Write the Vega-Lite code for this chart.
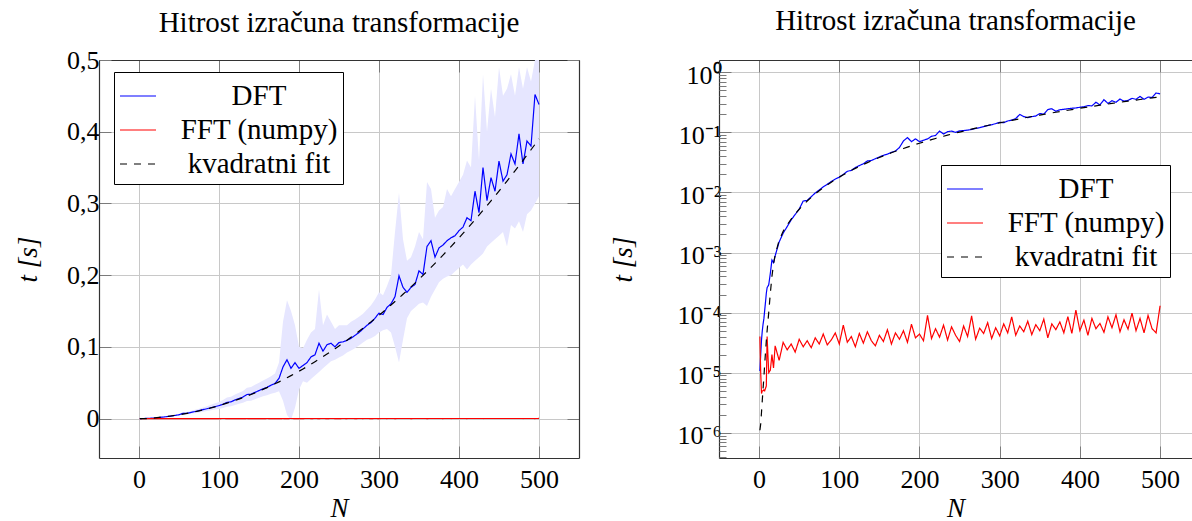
{
  "$schema": "https://vega.github.io/schema/vega-lite/v6.json",
  "padding": {"left": 14, "top": 6, "right": 0, "bottom": 0},
  "background": "white",
  "data": {"values": [
    {"N":1,"dft":1.07e-5,"fft":4.0e-5,"fit":1.1e-6,"lo":9e-6,"hi":1.3e-5},
    {"N":2,"dft":2.0e-5,"fft":1.0e-5,"fit":1.4e-6,"lo":1.7e-5,"hi":2.3e-5},
    {"N":3,"dft":3.5e-5,"fft":4.5e-6,"fit":2.2e-6,"lo":3.0e-5,"hi":4.0e-5},
    {"N":4,"dft":5.0e-5,"fft":5.0e-6,"fit":3.5e-6,"lo":4.2e-5,"hi":5.8e-5},
    {"N":5,"dft":6.5e-5,"fft":5.0e-6,"fit":5.5e-6,"lo":5.5e-5,"hi":7.5e-5},
    {"N":6,"dft":8.0e-5,"fft":5.2e-6,"fit":8.5e-6,"lo":6.8e-5,"hi":9.2e-5},
    {"N":7,"dft":1.1e-4,"fft":5.0e-6,"fit":1.4e-5,"lo":9.4e-5,"hi":1.27e-4},
    {"N":8,"dft":1.5e-4,"fft":5.5e-6,"fit":2.2e-5,"lo":1.28e-4,"hi":1.73e-4},
    {"N":9,"dft":2.1e-4,"fft":6.0e-6,"fit":3.4e-5,"lo":1.79e-4,"hi":2.42e-4},
    {"N":10,"dft":2.6e-4,"fft":4.0e-5,"fit":5.0e-5,"lo":2.2e-4,"hi":3.0e-4},
    {"N":12,"dft":2.9e-4,"fft":1.0e-5,"fit":1.0e-4,"lo":2.5e-4,"hi":3.3e-4},
    {"N":14,"dft":4.5e-4,"fft":1.1e-5,"fit":2.1e-4,"lo":3.8e-4,"hi":5.2e-4},
    {"N":16,"dft":7.5e-4,"fft":2.0e-5,"fit":4.0e-4,"lo":6.4e-4,"hi":8.6e-4},
    {"N":18,"dft":6.8e-4,"fft":1.2e-5,"fit":6.5e-4,"lo":5.8e-4,"hi":7.8e-4},
    {"N":20,"dft":8.8e-4,"fft":2.8e-5,"fit":9.0e-4,"lo":7.5e-4,"hi":1.0e-3},
    {"N":25,"dft":0.0015,"fft":1.6e-5,"fit":0.0016,"lo":0.0012,"hi":0.0019},
    {"N":30,"dft":0.0021,"fft":3.2e-5,"fit":0.00225,"lo":0.0017,"hi":0.0026},
    {"N":35,"dft":0.0027,"fft":2.4e-5,"fit":0.00289,"lo":0.0022,"hi":0.0033},
    {"N":40,"dft":0.0035,"fft":3.0e-5,"fit":0.0036,"lo":0.0029,"hi":0.0042},
    {"N":45,"dft":0.0043,"fft":2.2e-5,"fit":0.00439,"lo":0.0035,"hi":0.0052},
    {"N":50,"dft":0.0053,"fft":3.6e-5,"fit":0.00525,"lo":0.0042,"hi":0.0065},
    {"N":55,"dft":0.0072,"fft":2.7e-5,"fit":0.00619,"lo":0.005,"hi":0.009},
    {"N":60,"dft":0.0074,"fft":3.4e-5,"fit":0.0072,"lo":0.0058,"hi":0.0092},
    {"N":65,"dft":0.0085,"fft":2.6e-5,"fit":0.00829,"lo":0.0066,"hi":0.0105},
    {"N":70,"dft":0.0098,"fft":3.8e-5,"fit":0.00945,"lo":0.0075,"hi":0.0122},
    {"N":75,"dft":0.011,"fft":3.0e-5,"fit":0.01069,"lo":0.0085,"hi":0.0138},
    {"N":80,"dft":0.0124,"fft":4.4e-5,"fit":0.012,"lo":0.0095,"hi":0.0155},
    {"N":85,"dft":0.0137,"fft":2.9e-5,"fit":0.01339,"lo":0.0104,"hi":0.0172},
    {"N":90,"dft":0.0152,"fft":3.5e-5,"fit":0.01485,"lo":0.0115,"hi":0.0192},
    {"N":95,"dft":0.0167,"fft":4.6e-5,"fit":0.01639,"lo":0.0125,"hi":0.0212},
    {"N":100,"dft":0.018,"fft":3.0e-5,"fit":0.018,"lo":0.0135,"hi":0.0232},
    {"N":105,"dft":0.02,"fft":6.2e-5,"fit":0.01969,"lo":0.0148,"hi":0.026},
    {"N":110,"dft":0.0225,"fft":3.2e-5,"fit":0.02145,"lo":0.0165,"hi":0.0295},
    {"N":115,"dft":0.0233,"fft":4.0e-5,"fit":0.02329,"lo":0.017,"hi":0.0305},
    {"N":120,"dft":0.026,"fft":2.7e-5,"fit":0.0252,"lo":0.019,"hi":0.0335},
    {"N":125,"dft":0.028,"fft":4.5e-5,"fit":0.02719,"lo":0.0205,"hi":0.036},
    {"N":130,"dft":0.03,"fft":3.1e-5,"fit":0.02925,"lo":0.022,"hi":0.0385},
    {"N":135,"dft":0.0335,"fft":4.8e-5,"fit":0.03139,"lo":0.0245,"hi":0.043},
    {"N":140,"dft":0.034,"fft":3.4e-5,"fit":0.0336,"lo":0.025,"hi":0.044},
    {"N":145,"dft":0.0365,"fft":2.8e-5,"fit":0.03589,"lo":0.027,"hi":0.047},
    {"N":150,"dft":0.039,"fft":4.2e-5,"fit":0.03825,"lo":0.029,"hi":0.05},
    {"N":155,"dft":0.0415,"fft":3.3e-5,"fit":0.04069,"lo":0.031,"hi":0.053},
    {"N":160,"dft":0.0435,"fft":5.2e-5,"fit":0.0432,"lo":0.0325,"hi":0.056},
    {"N":165,"dft":0.0465,"fft":3.0e-5,"fit":0.04579,"lo":0.0345,"hi":0.059},
    {"N":170,"dft":0.049,"fft":4.6e-5,"fit":0.04845,"lo":0.036,"hi":0.063},
    {"N":175,"dft":0.056,"fft":3.6e-5,"fit":0.05119,"lo":0.038,"hi":0.078},
    {"N":180,"dft":0.072,"fft":5.0e-5,"fit":0.054,"lo":0.025,"hi":0.135},
    {"N":185,"dft":0.082,"fft":3.2e-5,"fit":0.05689,"lo":0.005,"hi":0.165},
    {"N":190,"dft":0.07,"fft":6.4e-5,"fit":0.05985,"lo":-0.002,"hi":0.15},
    {"N":195,"dft":0.078,"fft":3.8e-5,"fit":0.06289,"lo":0.015,"hi":0.13},
    {"N":200,"dft":0.07,"fft":4.4e-5,"fit":0.066,"lo":0.04,"hi":0.1},
    {"N":205,"dft":0.074,"fft":3.4e-5,"fit":0.06919,"lo":0.052,"hi":0.098},
    {"N":210,"dft":0.078,"fft":9.0e-5,"fit":0.07245,"lo":0.05,"hi":0.11},
    {"N":215,"dft":0.086,"fft":3.7e-5,"fit":0.07579,"lo":0.055,"hi":0.12},
    {"N":220,"dft":0.089,"fft":5.4e-5,"fit":0.0792,"lo":0.06,"hi":0.125},
    {"N":225,"dft":0.105,"fft":3.9e-5,"fit":0.08269,"lo":0.065,"hi":0.18},
    {"N":230,"dft":0.094,"fft":6.2e-5,"fit":0.08625,"lo":0.07,"hi":0.13},
    {"N":235,"dft":0.103,"fft":3.5e-5,"fit":0.08989,"lo":0.075,"hi":0.145},
    {"N":240,"dft":0.105,"fft":5.8e-5,"fit":0.0936,"lo":0.08,"hi":0.135},
    {"N":245,"dft":0.1,"fft":4.2e-5,"fit":0.09739,"lo":0.082,"hi":0.125},
    {"N":250,"dft":0.106,"fft":3.3e-5,"fit":0.10125,"lo":0.085,"hi":0.13},
    {"N":255,"dft":0.107,"fft":6.0e-5,"fit":0.10519,"lo":0.088,"hi":0.13},
    {"N":260,"dft":0.109,"fft":4.0e-5,"fit":0.1092,"lo":0.092,"hi":0.13},
    {"N":265,"dft":0.112,"fft":8.8e-5,"fit":0.11329,"lo":0.095,"hi":0.135},
    {"N":270,"dft":0.116,"fft":3.6e-5,"fit":0.11745,"lo":0.098,"hi":0.138},
    {"N":275,"dft":0.12,"fft":5.5e-5,"fit":0.12169,"lo":0.102,"hi":0.142},
    {"N":280,"dft":0.125,"fft":4.5e-5,"fit":0.126,"lo":0.106,"hi":0.146},
    {"N":285,"dft":0.13,"fft":6.8e-5,"fit":0.13039,"lo":0.11,"hi":0.152},
    {"N":290,"dft":0.134,"fft":3.7e-5,"fit":0.13485,"lo":0.112,"hi":0.158},
    {"N":295,"dft":0.14,"fft":5.6e-5,"fit":0.13939,"lo":0.115,"hi":0.166},
    {"N":300,"dft":0.147,"fft":4.1e-5,"fit":0.144,"lo":0.12,"hi":0.176},
    {"N":305,"dft":0.145,"fft":6.5e-5,"fit":0.14869,"lo":0.123,"hi":0.172},
    {"N":310,"dft":0.155,"fft":4.6e-5,"fit":0.15345,"lo":0.125,"hi":0.185},
    {"N":315,"dft":0.16,"fft":8.5e-5,"fit":0.15829,"lo":0.12,"hi":0.2},
    {"N":320,"dft":0.17,"fft":4.2e-5,"fit":0.1632,"lo":0.1,"hi":0.26},
    {"N":325,"dft":0.199,"fft":6.0e-5,"fit":0.16819,"lo":0.078,"hi":0.315},
    {"N":330,"dft":0.183,"fft":4.8e-5,"fit":0.17325,"lo":0.11,"hi":0.25},
    {"N":335,"dft":0.176,"fft":7.2e-5,"fit":0.17839,"lo":0.14,"hi":0.22},
    {"N":340,"dft":0.183,"fft":4.3e-5,"fit":0.1836,"lo":0.15,"hi":0.225},
    {"N":345,"dft":0.187,"fft":6.3e-5,"fit":0.18889,"lo":0.155,"hi":0.24},
    {"N":350,"dft":0.206,"fft":5.0e-5,"fit":0.19425,"lo":0.16,"hi":0.26},
    {"N":355,"dft":0.201,"fft":7.8e-5,"fit":0.19969,"lo":0.162,"hi":0.25},
    {"N":360,"dft":0.24,"fft":3.8e-5,"fit":0.2052,"lo":0.157,"hi":0.33},
    {"N":365,"dft":0.248,"fft":6.5e-5,"fit":0.21079,"lo":0.17,"hi":0.32},
    {"N":370,"dft":0.225,"fft":5.2e-5,"fit":0.21645,"lo":0.18,"hi":0.28},
    {"N":375,"dft":0.238,"fft":7.0e-5,"fit":0.22219,"lo":0.19,"hi":0.29},
    {"N":380,"dft":0.242,"fft":4.6e-5,"fit":0.228,"lo":0.195,"hi":0.295},
    {"N":385,"dft":0.248,"fft":8.6e-5,"fit":0.23389,"lo":0.198,"hi":0.32},
    {"N":390,"dft":0.252,"fft":4.5e-5,"fit":0.23985,"lo":0.2,"hi":0.31},
    {"N":395,"dft":0.255,"fft":1.1e-4,"fit":0.24589,"lo":0.205,"hi":0.32},
    {"N":400,"dft":0.262,"fft":5.0e-5,"fit":0.252,"lo":0.21,"hi":0.33},
    {"N":405,"dft":0.267,"fft":7.5e-5,"fit":0.25819,"lo":0.215,"hi":0.34},
    {"N":410,"dft":0.28,"fft":4.2e-5,"fit":0.26445,"lo":0.208,"hi":0.36},
    {"N":415,"dft":0.276,"fft":8.0e-5,"fit":0.27079,"lo":0.215,"hi":0.35},
    {"N":420,"dft":0.317,"fft":5.4e-5,"fit":0.2772,"lo":0.22,"hi":0.45},
    {"N":425,"dft":0.287,"fft":6.6e-5,"fit":0.28369,"lo":0.225,"hi":0.36},
    {"N":430,"dft":0.35,"fft":4.7e-5,"fit":0.29025,"lo":0.23,"hi":0.48},
    {"N":435,"dft":0.304,"fft":8.5e-5,"fit":0.29689,"lo":0.24,"hi":0.4},
    {"N":440,"dft":0.336,"fft":5.6e-5,"fit":0.3036,"lo":0.245,"hi":0.46},
    {"N":445,"dft":0.317,"fft":9.2e-5,"fit":0.31039,"lo":0.25,"hi":0.42},
    {"N":450,"dft":0.359,"fft":4.8e-5,"fit":0.31725,"lo":0.255,"hi":0.49},
    {"N":455,"dft":0.331,"fft":7.6e-5,"fit":0.32419,"lo":0.26,"hi":0.45},
    {"N":460,"dft":0.34,"fft":5.3e-5,"fit":0.3312,"lo":0.24,"hi":0.46},
    {"N":465,"dft":0.369,"fft":9.8e-5,"fit":0.33829,"lo":0.27,"hi":0.48},
    {"N":470,"dft":0.355,"fft":5.0e-5,"fit":0.34545,"lo":0.265,"hi":0.45},
    {"N":475,"dft":0.397,"fft":8.0e-5,"fit":0.35269,"lo":0.275,"hi":0.49},
    {"N":480,"dft":0.355,"fft":4.6e-5,"fit":0.36,"lo":0.26,"hi":0.46},
    {"N":485,"dft":0.387,"fft":9.0e-5,"fit":0.36739,"lo":0.285,"hi":0.49},
    {"N":490,"dft":0.38,"fft":5.4e-5,"fit":0.37485,"lo":0.29,"hi":0.47},
    {"N":495,"dft":0.452,"fft":4.6e-5,"fit":0.38239,"lo":0.3,"hi":0.5},
    {"N":500,"dft":0.438,"fft":1.3e-4,"fit":0.39,"lo":0.31,"hi":0.5}
  ]},
  "hconcat": [
    {
      "width": 480,
      "height": 398,
      "title": {"text": "Hitrost izračuna transformacije", "font": "Liberation Serif", "fontSize": 29, "fontWeight": "normal", "color": "#000", "offset": 9, "frame": "group"},
      "layer": [
        {
          "mark": {"type": "area", "color": "#e6e6ff", "clip": true},
          "encoding": {
            "x": {"field": "N", "type": "quantitative", "scale": {"domain": [-50, 550], "nice": false, "zero": false},
                  "axis": {"orient": "bottom", "values": [0, 100, 200, 300, 400, 500], "format": "d", "title": "N", "labelFont": "Liberation Serif", "titleFont": "Liberation Serif", "labelPadding": 20, "titlePadding": 3, "grid": true}},
            "y": {"field": "lo", "type": "quantitative", "scale": {"domain": [-0.055, 0.5], "nice": false, "zero": false},
                  "axis": {"orient": "left", "values": [0, 0.1, 0.2, 0.3, 0.4, 0.5], "labelExpr": "datum.value == 0 ? '0' : replace(format(datum.value, '.1f'), '.', ',')", "title": "t [s]", "labelFont": "Liberation Serif", "titleFont": "Liberation Serif", "labelPadding": 12, "titlePadding": 24, "grid": true}},
            "y2": {"field": "hi"}
          }
        },
        {
          "transform": [{"fold": ["dft", "fft", "fit"], "as": ["series", "t"]}],
          "mark": {"type": "line", "strokeWidth": 1.2, "clip": true},
          "encoding": {
            "x": {"field": "N", "type": "quantitative", "axis": {"orient": "top", "values": [0, 100, 200, 300, 400, 500], "labels": false, "title": null, "grid": false}},
            "y": {"field": "t", "type": "quantitative", "axis": {"orient": "right", "values": [0, 0.1, 0.2, 0.3, 0.4, 0.5], "labels": false, "title": null, "grid": false}},
            "color": {"field": "series", "type": "nominal", "scale": {"domain": ["dft", "fft", "fit"], "range": ["#0000ff", "#ff0000", "#000000"]},
                      "legend": {"orient": "none", "legendX": 15, "legendY": 12, "title": null, "labelExpr": "datum.label == 'dft' ? 'DFT' : datum.label == 'fft' ? 'FFT (numpy)' : 'kvadratni fit'"}},
            "strokeDash": {"field": "series", "type": "nominal", "scale": {"domain": ["dft", "fft", "fit"], "range": [[1, 0], [1, 0], [7, 7]]},
                      "legend": {"orient": "none", "legendX": 15, "legendY": 12, "title": null, "labelExpr": "datum.label == 'dft' ? 'DFT' : datum.label == 'fft' ? 'FFT (numpy)' : 'kvadratni fit'"}}
          }
        }
      ],
      "resolve": {"axis": {"x": "independent", "y": "independent"}}
    },
    {
      "width": 473,
      "height": 398,
      "title": {"text": "Hitrost izračuna transformacije", "font": "Liberation Serif", "fontSize": 29, "fontWeight": "normal", "color": "#000", "offset": 24, "frame": "group"},
      "layer": [
        {
          "transform": [{"fold": ["dft", "fft"], "as": ["series", "t"]}],
          "mark": {"type": "line", "strokeWidth": 1.2, "clip": true},
          "encoding": {
            "x": {"field": "N", "type": "quantitative", "scale": {"domain": [-50, 539.8], "nice": false, "zero": false},
                  "axis": {"orient": "bottom", "values": [0, 100, 200, 300, 400, 500], "format": "d", "title": "N", "labelFont": "Liberation Serif", "titleFont": "Liberation Serif", "labelPadding": 20, "titlePadding": 3, "grid": true}},
            "y": {"field": "t", "type": "quantitative", "scale": {"type": "log", "domain": [3.8e-7, 1.603], "nice": false},
                  "axis": {"orient": "left", "values": [1e-6, 1e-5, 1e-4, 1e-3, 1e-2, 1e-1, 1], "labelExpr": "datum.value >= 0.5 ? '10⁰' : datum.value >= 0.05 ? '10⁻¹' : datum.value >= 0.005 ? '10⁻²' : datum.value >= 0.0005 ? '10⁻³' : datum.value >= 0.00005 ? '10⁻⁴' : datum.value >= 0.000005 ? '10⁻⁵' : '10⁻⁶'", "title": "t [s]", "labelFont": "Liberation Serif", "titleFont": "Liberation Serif", "labelPadding": 10, "labelOffset": 3, "titlePadding": 39, "grid": true}},
            "color": {"field": "series", "type": "nominal", "scale": {"domain": ["dft", "fft", "fit"], "range": ["#0000ff", "#ff0000", "#000000"]},
                      "legend": {"orient": "none", "legendX": 222, "legendY": 105, "title": null, "labelExpr": "datum.label == 'dft' ? 'DFT' : datum.label == 'fft' ? 'FFT (numpy)' : 'kvadratni fit'"}},
            "strokeDash": {"field": "series", "type": "nominal", "scale": {"domain": ["dft", "fft", "fit"], "range": [[1, 0], [1, 0], [7, 7]]},
                      "legend": {"orient": "none", "legendX": 222, "legendY": 105, "title": null, "labelExpr": "datum.label == 'dft' ? 'DFT' : datum.label == 'fft' ? 'FFT (numpy)' : 'kvadratni fit'"}}
          }
        },
        {
          "transform": [{"fold": ["fit"], "as": ["series", "t"]}],
          "mark": {"type": "line", "strokeWidth": 1.2, "clip": true},
          "encoding": {
            "x": {"field": "N", "type": "quantitative", "axis": {"orient": "top", "values": [0, 100, 200, 300, 400, 500], "labels": false, "title": null, "grid": false}},
            "y": {"field": "t", "type": "quantitative", "axis": {"orient": "left", "values": [4e-7, 5e-7, 6e-7, 7e-7, 8e-7, 9e-7, 2e-6, 3e-6, 4e-6, 5e-6, 6e-6, 7e-6, 8e-6, 9e-6, 2e-5, 3e-5, 4e-5, 5e-5, 6e-5, 7e-5, 8e-5, 9e-5, 2e-4, 3e-4, 4e-4, 5e-4, 6e-4, 7e-4, 8e-4, 9e-4, 2e-3, 3e-3, 4e-3, 5e-3, 6e-3, 7e-3, 8e-3, 9e-3, 0.02, 0.03, 0.04, 0.05, 0.06, 0.07, 0.08, 0.09, 0.2, 0.3, 0.4, 0.5, 0.6, 0.7, 0.8, 0.9], "labels": false, "title": null, "grid": false, "domain": false, "tickSize": -7}},
            "color": {"field": "series", "type": "nominal", "scale": {"domain": ["dft", "fft", "fit"], "range": ["#0000ff", "#ff0000", "#000000"]},
                      "legend": {"orient": "none", "legendX": 222, "legendY": 105, "title": null, "labelExpr": "datum.label == 'dft' ? 'DFT' : datum.label == 'fft' ? 'FFT (numpy)' : 'kvadratni fit'"}},
            "strokeDash": {"field": "series", "type": "nominal", "scale": {"domain": ["dft", "fft", "fit"], "range": [[1, 0], [1, 0], [7, 7]]},
                      "legend": {"orient": "none", "legendX": 222, "legendY": 105, "title": null, "labelExpr": "datum.label == 'dft' ? 'DFT' : datum.label == 'fft' ? 'FFT (numpy)' : 'kvadratni fit'"}}
          }
        }
      ],
      "resolve": {"axis": {"x": "independent", "y": "independent"}}
    }
  ],
  "spacing": 140,
  "bounds": "flush",
  "resolve": {
    "scale": {"x": "independent", "y": "independent", "color": "independent", "strokeDash": "independent"},
    "legend": {"color": "independent", "strokeDash": "independent"}
  },
  "config": {
    "font": "Liberation Serif",
    "view": {"stroke": null},
    "axis": {
      "labelFont": "Liberation Serif", "labelFontSize": 26, "labelColor": "#000",
      "titleFont": "Liberation Serif", "titleFontSize": 27, "titleFontWeight": "normal", "titleFontStyle": "italic", "titleColor": "#000",
      "gridColor": "#c8c8c8", "gridWidth": 1, "gridOpacity": 1,
      "domainColor": "#333", "domainWidth": 1.2,
      "tickColor": "#7a7a7a", "tickWidth": 1, "tickSize": -12
    },
    "legend": {
      "symbolType": "stroke", "symbolSize": 1296, "symbolStrokeWidth": 1.2,
      "labelFont": "Liberation Serif", "labelFontSize": 29, "labelColor": "#000", "labelAlign": "center", "labelOffset": 102, "labelLimit": 400,
      "rowPadding": 0, "padding": 5, "strokeColor": "#000", "fillColor": "#fff"
    }
  }
}
